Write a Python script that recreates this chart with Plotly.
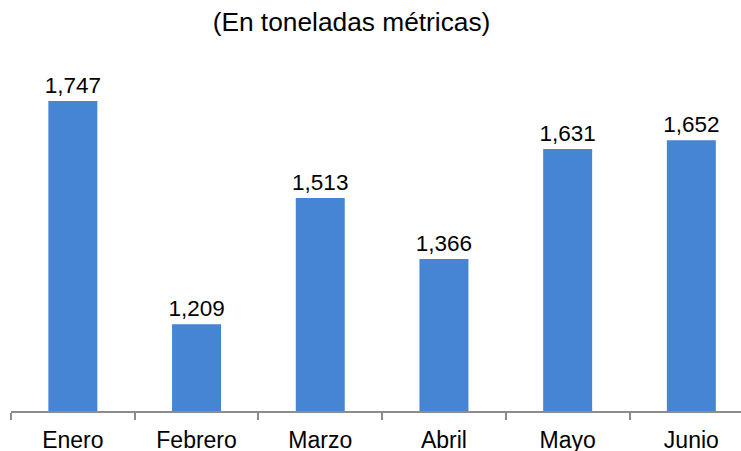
import plotly.graph_objects as go

months = ["Enero", "Febrero", "Marzo", "Abril", "Mayo", "Junio"]
tonnes = [1747, 1209, 1513, 1366, 1631, 1652]
title_text = "(En toneladas métricas)"

fig = go.Figure(
    go.Bar(
        x=months,
        y=tonnes,
        marker=dict(color="#4684d4", line=dict(width=0)),
        texttemplate="%{y:,}",
        textposition="outside",
        constraintext="none",
        textfont=dict(family="Liberation Sans, Arial", size=22.5, color="#000000"),
        cliponaxis=False,
    )
)

fig.update_layout(
    width=741,
    height=451,
    margin=dict(l=11, r=0, t=50, b=40, autoexpand=False),
    paper_bgcolor="white",
    plot_bgcolor="white",
    bargap=0.604,
    showlegend=False,
    font=dict(family="Liberation Sans, Arial", color="#000000"),
    title=dict(
        text=title_text,
        x=351.5 / 741,
        xref="container",
        xanchor="center",
        y=1 - 22 / 451,
        yref="container",
        yanchor="middle",
        font=dict(family="Liberation Sans, Arial", size=26.3, color="#000000"),
    ),
)

fig.update_xaxes(
    type="category",
    range=[-0.5, -0.5 + 730 / 123.7],
    automargin=False,
    showline=True,
    linecolor="#8c8c8c",
    linewidth=1.5,
    ticks="outside",
    tickson="boundaries",
    ticklen=7,
    tickcolor="#8c8c8c",
    tickwidth=1.5,
    ticklabelstandoff=8,
    showgrid=False,
    tickfont=dict(family="Liberation Sans, Arial", size=23, color="#000000"),
)

fig.update_yaxes(
    range=[1000, 1000 + 361 / 0.4151],
    automargin=False,
    visible=False,
    showgrid=False,
    zeroline=False,
)

fig.write_html(
    "out.html",
    config={"displayModeBar": False},
    post_script="document.body.style.margin='0';document.body.style.overflow='hidden';",
)
